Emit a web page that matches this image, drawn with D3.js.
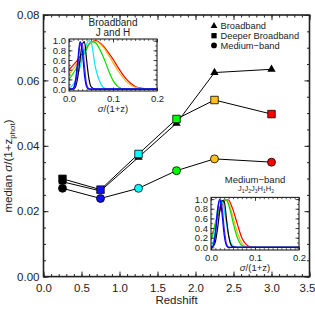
<!DOCTYPE html>
<html><head><meta charset="utf-8">
<script src="https://cdn.jsdelivr.net/npm/d3@7"></script>
<style>body{margin:0;background:#fff}svg{display:block}text{font-family:"Liberation Sans",Arial,sans-serif;fill:#222}</style>
</head><body><svg id="c" width="315" height="315"></svg>
<script>
// ---- main chart data ----
const redshift = [0.25, 0.75, 1.25, 1.75, 2.25, 3.0];
const binColors = ["#000000", "#1010ff", "#00ffff", "#00ff00", "#ffc020", "#ff0000"];
const broadband = [0.0290, 0.0262, 0.0365, 0.0469, 0.0624, 0.0634];
const deeperBroadband = [0.0299, 0.0266, 0.0375, 0.0482, 0.0540, 0.0497];
const mediumBand = [0.0270, 0.0239, 0.0270, 0.0324, 0.0360, 0.0350];
const xTicks = [0, 0.5, 1.0, 1.5, 2.0, 2.5, 3.0, 3.5];
const yTicks = [0, 0.02, 0.04, 0.06, 0.08];
const legendLabels = ["Broadband", "Deeper Broadband", "Medium\u2212band"];

// ---- inset distributions (normalised), sampled on sigmaGrid ----
const sigmaGrid = [0,0.005,0.01,0.015,0.02,0.025,0.03,0.035,0.04,0.045,0.05,0.06,0.07,0.08,0.09,0.10,0.11,0.12,0.13,0.14,0.15,0.16,0.17,0.18,0.19,0.20];
const curveColors = ["#ff0000", "#ffb000", "#00e000", "#00e8ff", "#000000", "#6020ff", "#0000ff"];
const bbRed    = [0.40,0.45,0.50,0.55,0.61,0.67,0.73,0.80,0.86,0.92,0.97,1.00,0.96,0.87,0.75,0.62,0.47,0.33,0.21,0.12,0.06,0.025,0.01,0,0,0];
const bbOrange = [0.30,0.36,0.42,0.48,0.55,0.62,0.69,0.76,0.84,0.91,0.97,0.99,0.94,0.84,0.70,0.55,0.40,0.27,0.16,0.09,0.04,0.015,0.005,0,0,0];
const bbGreen  = [0.20,0.26,0.33,0.40,0.48,0.56,0.65,0.74,0.83,0.92,0.98,0.96,0.82,0.62,0.38,0.18,0.06,0.01,0,0,0,0,0,0,0,0];
const bbCyan   = [0.02,0.05,0.10,0.18,0.30,0.45,0.62,0.78,0.92,1.00,0.97,0.45,0.15,0.02,0,0,0,0,0,0,0,0,0,0,0,0];
const bbBlack  = [0,0,0,0.05,0.25,0.60,0.92,0.98,0.60,0.23,0.05,0,0,0,0,0,0,0,0,0,0,0,0,0,0,0];
const bbPurple = [0,0,0.01,0.12,0.45,0.90,0.95,0.50,0.10,0.01,0,0,0,0,0,0,0,0,0,0,0,0,0,0,0,0];
const bbBlue   = [0,0,0.02,0.20,0.60,0.98,0.80,0.30,0.05,0,0,0,0,0,0,0,0,0,0,0,0,0,0,0,0,0];
const mbRed    = [0.20,0.33,0.48,0.63,0.77,0.88,0.95,0.99,0.98,0.90,0.78,0.48,0.20,0.06,0.01,0,0,0,0,0,0,0,0,0,0,0];
const mbOrange = [0.18,0.32,0.50,0.67,0.82,0.92,0.98,0.99,0.92,0.79,0.62,0.30,0.09,0.01,0,0,0,0,0,0,0,0,0,0,0,0];
const mbGreen  = [0.15,0.30,0.50,0.68,0.83,0.93,0.99,0.98,0.88,0.72,0.52,0.20,0.04,0,0,0,0,0,0,0,0,0,0,0,0,0];
const mbCyan   = [0.02,0.12,0.40,0.78,0.98,0.97,0.78,0.50,0.25,0.10,0.03,0,0,0,0,0,0,0,0,0,0,0,0,0,0,0];
const mbBlack  = [0,0.02,0.12,0.40,0.75,0.97,0.95,0.60,0.25,0.06,0.01,0,0,0,0,0,0,0,0,0,0,0,0,0,0,0];
const mbPurple = [0,0.03,0.25,0.70,0.98,0.85,0.40,0.08,0,0,0,0,0,0,0,0,0,0,0,0,0,0,0,0,0,0];
const mbBlue   = [0,0.03,0.30,0.80,1.00,0.70,0.25,0.04,0,0,0,0,0,0,0,0,0,0,0,0,0,0,0,0,0,0];
const insetXTicks = [0, 0.1, 0.2];
const insetYTicks = [0, 0.2, 0.4, 0.6, 0.8, 1.0];
const mbFilters = [["J","1"],["J","2"],["J","3"],["H","1"],["H","2"]];

const svg = d3.select("#c");
const x = d3.scaleLinear([0, 3.5], [43.5, 309.5]);
const y = d3.scaleLinear([0, 0.08], [276.6, 15]);
const axCol = "#222";

function styleAxis(g, w) {
  g.select(".domain").remove();
  g.selectAll("line").attr("stroke", axCol).attr("stroke-width", w);
  g.selectAll("text").style("font-family", "Liberation Sans, Arial, sans-serif").attr("fill", "#222");
}
const xMinor = d3.range(0, 3.501, 0.1);
const yMinor = d3.range(0, 0.0801, 0.005);

// bottom
svg.append("g").attr("transform", `translate(0,${y(0)})`)
  .call(d3.axisBottom(x).tickValues(xTicks).tickSize(-5).tickSizeOuter(0).tickPadding(7).tickFormat(d3.format(".1f")))
  .call(g => {
    styleAxis(g, 1);
    g.selectAll("text").style("font-size", "11.5px");
    g.selectAll(".tick").filter(d => d === 3.5).select("text").attr("x", -2.5);
  });
svg.append("g").attr("transform", `translate(0,${y(0)})`)
  .call(d3.axisBottom(x).tickValues(xMinor).tickSize(-2.5).tickSizeOuter(0).tickFormat(""))
  .call(g => styleAxis(g, 1));
// top
svg.append("g").attr("transform", `translate(0,${y(0.08)})`)
  .call(d3.axisTop(x).tickValues(xTicks).tickSize(-5).tickSizeOuter(0).tickFormat(""))
  .call(g => styleAxis(g, 1));
svg.append("g").attr("transform", `translate(0,${y(0.08)})`)
  .call(d3.axisTop(x).tickValues(xMinor).tickSize(-2.5).tickSizeOuter(0).tickFormat(""))
  .call(g => styleAxis(g, 1));
// left
svg.append("g").attr("transform", `translate(${x(0)},0)`)
  .call(d3.axisLeft(y).tickValues(yTicks).tickSize(-5).tickSizeOuter(0).tickPadding(4).tickFormat(d3.format(".2f")))
  .call(g => { styleAxis(g, 1); g.selectAll("text").style("font-size", "11.5px"); });
svg.append("g").attr("transform", `translate(${x(0)},0)`)
  .call(d3.axisLeft(y).tickValues(yMinor).tickSize(-2.5).tickSizeOuter(0).tickFormat(""))
  .call(g => styleAxis(g, 1));
// right
svg.append("g").attr("transform", `translate(${x(3.5)},0)`)
  .call(d3.axisRight(y).tickValues(yTicks).tickSize(-5).tickSizeOuter(0).tickFormat(""))
  .call(g => styleAxis(g, 1));
svg.append("g").attr("transform", `translate(${x(3.5)},0)`)
  .call(d3.axisRight(y).tickValues(yMinor).tickSize(-2.5).tickSizeOuter(0).tickFormat(""))
  .call(g => styleAxis(g, 1));
// frame
svg.append("rect").attr("x", x(0)).attr("y", y(0.08)).attr("width", x(3.5) - x(0)).attr("height", y(0) - y(0.08))
  .attr("fill", "none").attr("stroke", axCol).attr("stroke-width", 1.6);

// axis titles
svg.append("text").attr("x", (x(0) + x(3.5)) / 2).attr("y", 304).attr("text-anchor", "middle")
  .style("font-size", "11.5px").text("Redshift");
const yl = svg.append("text").attr("transform", `translate(12,166) rotate(-90)`).attr("text-anchor", "middle").style("font-size", "11.5px");
yl.append("tspan").text("median ");
yl.append("tspan").style("font-style", "italic").text("\u03c3");
yl.append("tspan").text("/(1+z");
yl.append("tspan").attr("dy", 3).style("font-size", "8px").text("phot");
yl.append("tspan").attr("dy", -3).text(")");

// ---- insets ----
function inset(x0, x1, yTop, yBot, yDom, series, titleLines) {
  const ix = d3.scaleLinear([0, 0.2], [x0, x1]);
  const iy = d3.scaleLinear(yDom, [yBot, yTop]);
  const g = svg.append("g");
  g.append("rect").attr("x", x0).attr("y", yTop).attr("width", x1 - x0).attr("height", yBot - yTop).attr("fill", "#fff");
  const id = "clip" + Math.round(x0);
  g.append("clipPath").attr("id", id).append("rect").attr("x", x0).attr("y", yTop).attr("width", x1 - x0).attr("height", yBot - yTop);
  const line = d3.line().x((d, i) => ix(sigmaGrid[i])).y(d => iy(d)).curve(d3.curveMonotoneX);
  const cg = g.append("g").attr("clip-path", `url(#${id})`);
  series.forEach((s, k) => cg.append("path").attr("d", line(s)).attr("fill", "none").attr("stroke", curveColors[k]).attr("stroke-width", 1.2));
  const xm = d3.range(0, 0.2001, 0.01);
  const ym = d3.range(0, 1.001, 0.1);
  const ax = (gen, tr, vals, len, fmt, pad, fs) => {
    const a = g.append("g").attr("transform", tr).call(gen.tickValues(vals).tickSize(-len).tickSizeOuter(0).tickPadding(pad || 3).tickFormat(fmt || ""));
    styleAxis(a, 0.8);
    if (fs) a.selectAll("text").style("font-size", fs);
  };
  ax(d3.axisBottom(ix), `translate(0,${yBot})`, insetXTicks, 3.5, d3.format(".1f"), 4, "9.5px");
  ax(d3.axisBottom(ix), `translate(0,${yBot})`, xm, 1.8);
  ax(d3.axisTop(ix), `translate(0,${yTop})`, insetXTicks, 3.5);
  ax(d3.axisTop(ix), `translate(0,${yTop})`, xm, 1.8);
  ax(d3.axisLeft(iy), `translate(${x0},0)`, insetYTicks, 3.5, d3.format(".1f"), 3, "9.5px");
  ax(d3.axisLeft(iy), `translate(${x0},0)`, ym, 1.8);
  ax(d3.axisRight(iy), `translate(${x1},0)`, insetYTicks, 3.5);
  ax(d3.axisRight(iy), `translate(${x1},0)`, ym, 1.8);
  g.append("rect").attr("x", x0).attr("y", yTop).attr("width", x1 - x0).attr("height", yBot - yTop)
    .attr("fill", "none").attr("stroke", axCol).attr("stroke-width", 1.1);
  const cx = (x0 + x1) / 2;
  const xl = g.append("text").attr("x", cx).attr("y", yBot + 20.5).attr("text-anchor", "middle").style("font-size", "9.5px");
  xl.append("tspan").style("font-style", "italic").text("\u03c3");
  xl.append("tspan").text("/(1+z)");
  titleLines(g, cx, yTop);
}

inset(69, 157, 39, 91, [-0.04, 1.035],
  [bbRed, bbOrange, bbGreen, bbCyan, bbBlack, bbPurple, bbBlue],
  (g, cx, yTop) => {
    g.append("text").attr("x", cx).attr("y", yTop - 13).attr("text-anchor", "middle").style("font-size", "10px").text("Broadband");
    g.append("text").attr("x", cx).attr("y", yTop - 3.3).attr("text-anchor", "middle").style("font-size", "10px").text("J and H");
  });
inset(211, 299, 197.4, 250, [-0.055, 1.035],
  [mbRed, mbOrange, mbGreen, mbCyan, mbBlack, mbPurple, mbBlue],
  (g, cx, yTop) => {
    g.append("text").attr("x", cx).attr("y", yTop - 14).attr("text-anchor", "middle").style("font-size", "9.5px").text("Medium\u2212band");
    const t = g.append("text").attr("x", cx + 1).attr("y", yTop - 6.5).attr("text-anchor", "middle").style("font-size", "7.5px");
    mbFilters.forEach(([a, b], i) => {
      t.append("tspan").attr("dy", i === 0 ? 0 : -1.8).text(a);
      t.append("tspan").attr("dy", 1.8).style("font-size", "5px").text(b);
    });
  });

// ---- main series ----
const ln = d3.line().x((d, i) => x(redshift[i])).y(d => y(d));
[mediumBand, broadband, deeperBroadband].forEach(s =>
  svg.append("path").attr("d", ln(s)).attr("fill", "none").attr("stroke", "#000").attr("stroke-width", 1));
const sym = (type, size) => d3.symbol().type(type).size(size)();
mediumBand.forEach((v, i) => svg.append("path").attr("d", sym(d3.symbolCircle, 50))
  .attr("transform", `translate(${x(redshift[i])},${y(v)})`).attr("fill", binColors[i]).attr("stroke", "#000").attr("stroke-width", 0.8));
broadband.forEach((v, i) => svg.append("path").attr("d", sym(d3.symbolTriangle, 30))
  .attr("transform", `translate(${x(redshift[i])},${y(v)})`).attr("fill", "#000"));
deeperBroadband.forEach((v, i) => svg.append("path").attr("d", sym(d3.symbolSquare, 56))
  .attr("transform", `translate(${x(redshift[i])},${y(v)})`).attr("fill", binColors[i]).attr("stroke", "#000").attr("stroke-width", 0.8));

// ---- legend ----
const legTypes = [[d3.symbolTriangle, 20], [d3.symbolSquare, 28], [d3.symbolCircle, 26]];
legendLabels.forEach((lab, i) => {
  const ly = 26 + i * 9.7;
  svg.append("path").attr("d", sym(legTypes[i][0], legTypes[i][1])).attr("transform", `translate(214,${ly})`).attr("fill", "#000");
  svg.append("text").attr("x", 220.5).attr("y", ly + 3.3).style("font-size", "9.3px").text(lab);
});
</script></body></html>
